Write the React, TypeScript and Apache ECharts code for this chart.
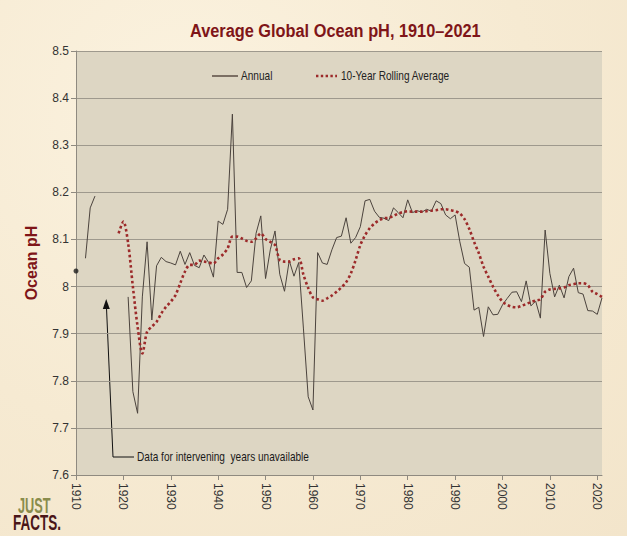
import React, { useEffect, useRef } from "react";
import * as echarts from "echarts";

// Years on the category axis
const years: string[] = [];
for (let y = 1910; y <= 2021; y++) years.push(String(y));

// Annual average ocean pH, 1910–2021 (null = no data)
const annualPH: (number | null)[] = [
  8.033, null, 8.06, 8.167, 8.192, null, null, null, null, null,
  null, 7.978, 7.777, 7.731, 7.978, 8.095, 7.929, 8.044, 8.062, 8.053,
  8.05, 8.046, 8.075, 8.047, 8.072, 8.045, 8.04, 8.067, 8.051, 8.02,
  8.139, 8.132, 8.164, 8.366, 8.03, 8.03, 7.998, 8.012, 8.113, 8.15,
  8.017, 8.078, 8.118, 8.026, 7.99, 8.055, 8.022, 8.051, 7.91, 7.766,
  7.738, 8.072, 8.05, 8.047, 8.078, 8.104, 8.107, 8.146, 8.092, 8.104,
  8.127, 8.182, 8.185, 8.16, 8.147, 8.145, 8.14, 8.167, 8.157, 8.146,
  8.184, 8.157, 8.161, 8.158, 8.164, 8.16, 8.182, 8.176, 8.152, 8.144,
  8.152, 8.095, 8.049, 8.041, 7.95, 7.956, 7.894, 7.957, 7.94, 7.941,
  7.961, 7.975, 7.988, 7.989, 7.968, 8.012, 7.959, 7.969, 7.933, 8.12,
  8.028, 7.978, 8.003, 7.976, 8.021, 8.039, 7.987, 7.984, 7.949, 7.948,
  7.941, 7.976,
];

// 10-year rolling average of ocean pH
const rollingPH: (number | null)[] = [
  null, null, null, null, null, null, null, null, null, 8.113,
  8.138, 8.092, 8.0, 7.915, 7.858, 7.904, 7.915, 7.925, 7.943, 7.957,
  7.968, 7.982, 8.007, 8.032, 8.046, 8.046, 8.055, 8.053, 8.051, 8.049,
  8.06, 8.068, 8.081, 8.106, 8.106, 8.102, 8.097, 8.095, 8.102, 8.113,
  8.101, 8.095, 8.088, 8.056, 8.053, 8.053, 8.058, 8.06, 8.025, 7.997,
  7.977, 7.973, 7.97, 7.975, 7.981, 7.989, 7.998, 8.009, 8.028, 8.056,
  8.088, 8.109, 8.124, 8.134, 8.141, 8.145, 8.146, 8.15, 8.155, 8.158,
  8.16, 8.159, 8.159, 8.159, 8.16, 8.161, 8.162, 8.164, 8.164, 8.162,
  8.16, 8.155, 8.143, 8.122, 8.095, 8.071, 8.042, 8.021, 8.0, 7.982,
  7.968, 7.961, 7.957, 7.956, 7.959, 7.963, 7.967, 7.97, 7.973, 7.989,
  7.994, 7.995, 7.996, 7.998, 8.003, 8.005, 8.007, 8.007, 8.003, 7.989,
  7.984, 7.978,
];

const TITLE = "Average Global Ocean pH, 1910–2021";
const Y_NAME = "Ocean pH";
const NOTE = "Data for intervening  years unavailable";
const LEGEND_ANNUAL = "Annual";
const LEGEND_ROLLING = "10-Year Rolling Average";

const SANS = "'Liberation Sans', Arial, sans-serif";
const DARK_RED = "#7f1518";
const ANNUAL_COLOR = "#4b433d";
const ROLLING_COLOR = "#9c2a2a";
const ROLLING_LINE = { color: ROLLING_COLOR, width: 2.6, type: [2.6, 2.6] };

export default function App() {
  const ref = useRef<HTMLDivElement>(null);

  useEffect(() => {
    document.body.style.margin = "0";
    if (!ref.current) return;
    const chart = echarts.init(ref.current, null, { renderer: "svg" });

    // Annual values with no neighbour on either side are drawn as single dots
    const isolated = annualPH.map((v, i) =>
      v != null && annualPH[i - 1] == null && annualPH[i + 1] == null ? v : null
    );

    // Condensed-looking text: regular sans squeezed horizontally
    const narrowText = (
      text: string,
      x: number,
      y: number,
      size: number,
      fill: string
    ) => ({
      type: "text",
      x,
      y,
      scaleX: 0.84,
      style: {
        text,
        fill,
        font: `${size}px ${SANS}`,
        textVerticalAlign: "middle",
      },
    });

    chart.setOption({
      animation: false,
      backgroundColor: "transparent",
      grid: {
        left: 76,
        top: 51,
        width: 526,
        height: 424,
        show: true,
        backgroundColor: "#ddd6c3",
        borderWidth: 0,
      },
      xAxis: {
        type: "category",
        data: years,
        boundaryGap: false,
        axisLine: { lineStyle: { color: "#8f8a80" } },
        axisTick: {
          length: 5,
          interval: (i: number) => Number(years[i]) % 10 === 0,
          lineStyle: { color: "#8f8a80" },
        },
        axisLabel: {
          interval: (i: number) => Number(years[i]) % 10 === 0,
          rotate: -90,
          margin: 8,
          fontFamily: SANS,
          fontSize: 12,
          color: "#333",
        },
        splitLine: { show: false },
      },
      yAxis: {
        type: "value",
        min: 7.6,
        max: 8.5,
        interval: 0.1,
        name: Y_NAME,
        nameLocation: "middle",
        nameGap: 37,
        nameRotate: 90,
        nameTextStyle: {
          fontFamily: SANS,
          fontWeight: "bold",
          fontSize: 16,
          color: DARK_RED,
        },
        axisLine: { show: true, lineStyle: { color: "#8f8a80" } },
        axisTick: { show: true, length: 5, lineStyle: { color: "#8f8a80" } },
        axisLabel: {
          margin: 7,
          fontFamily: SANS,
          fontSize: 12,
          color: "#333",
          formatter: (v: number) => String(Math.round(v * 10) / 10),
        },
        splitLine: { lineStyle: { color: "#9e998d", width: 1 } },
      },
      series: [
        {
          name: LEGEND_ANNUAL,
          type: "line",
          data: annualPH,
          symbol: "none",
          connectNulls: false,
          lineStyle: { color: ANNUAL_COLOR, width: 1 },
          itemStyle: { color: ANNUAL_COLOR },
        },
        {
          name: "Annual-dots",
          type: "scatter",
          data: isolated,
          symbol: "circle",
          symbolSize: 5,
          itemStyle: { color: "#1a1a1a" },
        },
        {
          name: LEGEND_ROLLING,
          type: "line",
          data: rollingPH,
          symbol: "none",
          smooth: 0.3,
          lineStyle: ROLLING_LINE,
          itemStyle: { color: ROLLING_COLOR },
        },
      ],
      graphic: [
        {
          type: "text",
          x: 190,
          y: 31,
          scaleX: 0.86,
          style: {
            text: TITLE,
            fill: DARK_RED,
            font: `bold 19px ${SANS}`,
            textVerticalAlign: "middle",
          },
        },
        // Legend
        {
          type: "line",
          shape: { x1: 212, y1: 76, x2: 238, y2: 76 },
          style: { stroke: "#3a2a22", lineWidth: 1.2 },
        },
        narrowText(LEGEND_ANNUAL, 241, 76, 12, "#222"),
        {
          type: "line",
          shape: { x1: 316, y1: 76, x2: 337, y2: 76 },
          style: {
            stroke: ROLLING_COLOR,
            lineWidth: 2.4,
            lineDash: [2.4, 2.4],
          },
        },
        narrowText(LEGEND_ROLLING, 341, 76, 12, "#222"),
        // Note with arrow pointing to the data gap
        {
          type: "polyline",
          shape: { points: [[106.5, 308], [113, 457], [134, 457]] },
          style: { stroke: "#111", lineWidth: 1, fill: null },
        },
        {
          type: "polygon",
          shape: { points: [[106.2, 299], [102.8, 309], [109.8, 309]] },
          style: { fill: "#111" },
        },
        narrowText(NOTE, 137, 457, 12, "#1a1a1a"),
        // Logo
        {
          type: "text",
          x: 18,
          y: 495,
          scaleY: 1.45,
          scaleX: 0.85,
          style: {
            text: "JUST",
            fill: "#8a8c4c",
            font: `bold 15px ${SANS}`,
            textVerticalAlign: "top",
          },
        },
        {
          type: "text",
          x: 13,
          y: 511,
          scaleY: 1.5,
          scaleX: 0.9,
          style: {
            text: "FACTS.",
            fill: "#4a1518",
            font: `bold 15px ${SANS}`,
            textVerticalAlign: "top",
          },
        },
      ],
    });

    return () => chart.dispose();
  }, []);

  return (
    <div
      style={{
        width: 627,
        height: 536,
        background:
          "radial-gradient(ellipse at 30% 20%, #fbf2df 0%, #f6ead2 55%, #f3e5cb 100%)",
      }}
    >
      <div ref={ref} style={{ width: 627, height: 536 }} />
    </div>
  );
}
